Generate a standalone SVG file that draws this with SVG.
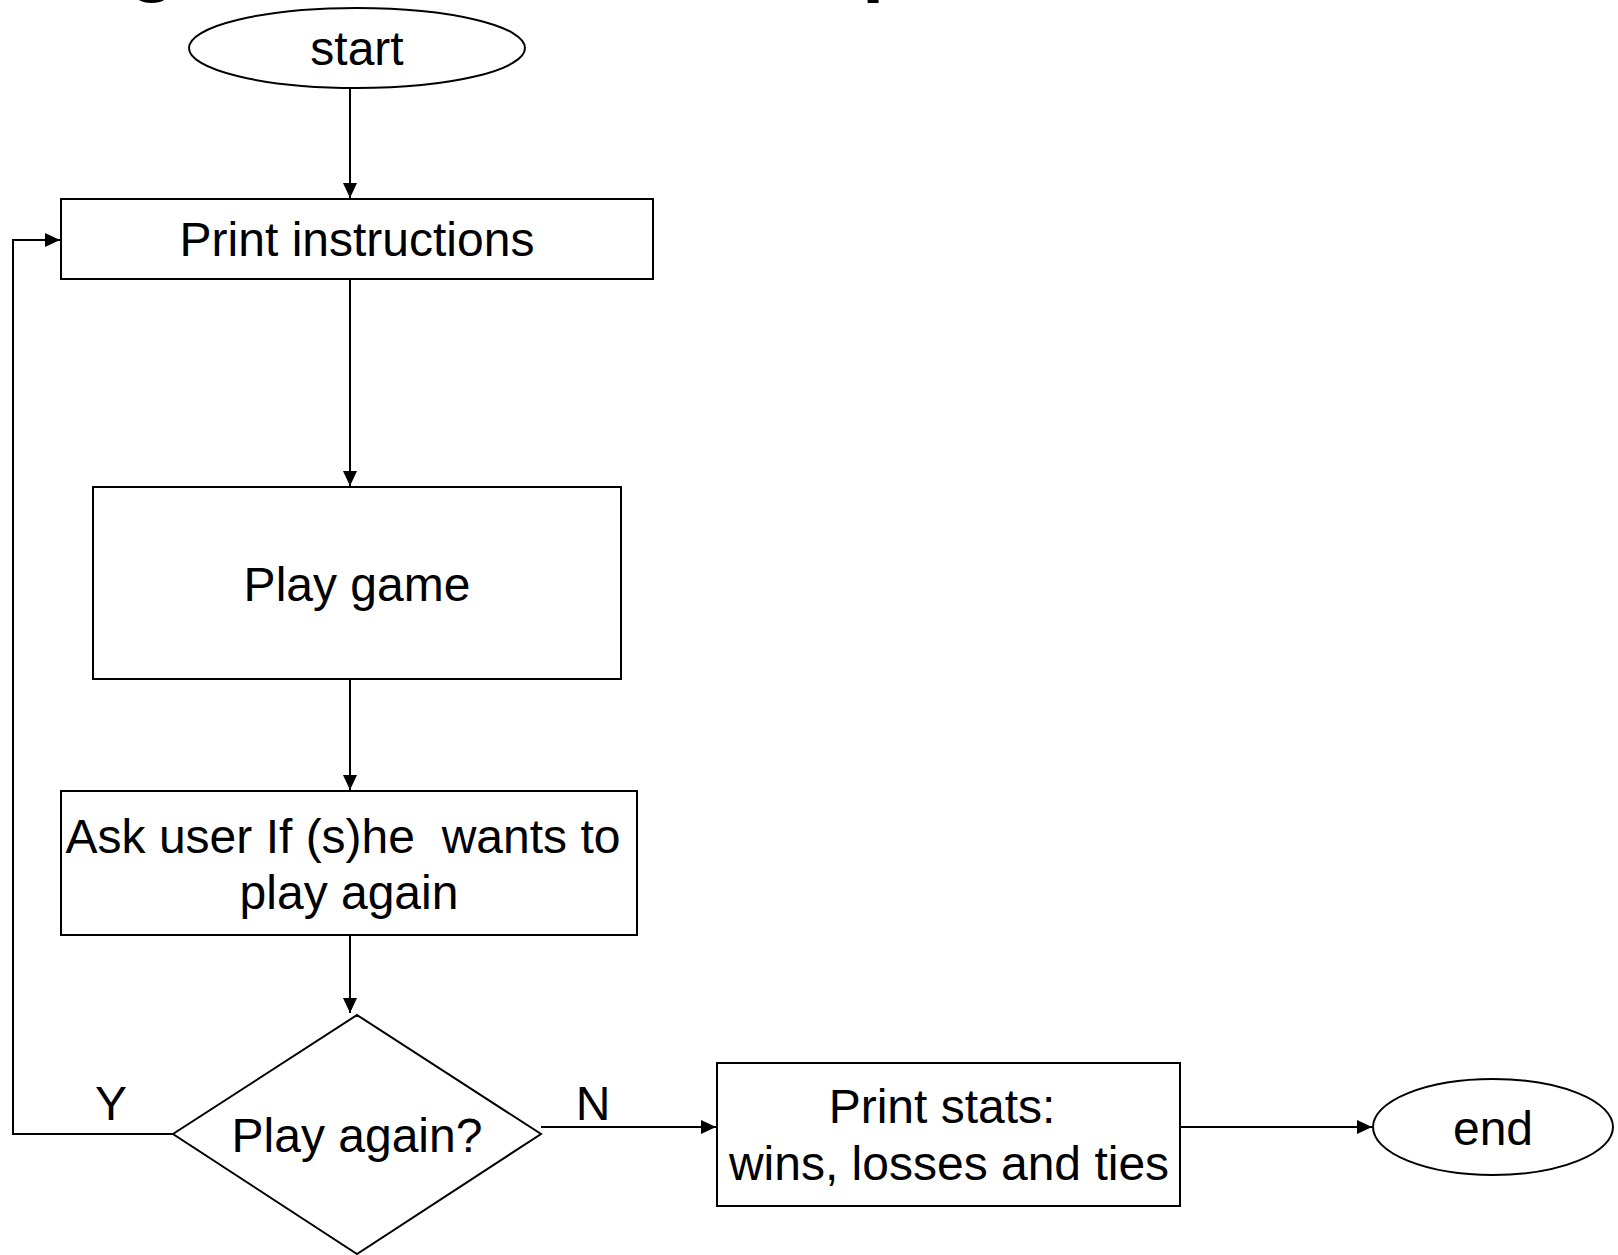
<svg xmlns="http://www.w3.org/2000/svg" width="1618" height="1255" viewBox="0 0 1618 1255">
  <style>
    .shape { fill: #ffffff; stroke: #000000; stroke-width: 2; }
    .label { font-family: "Liberation Sans", Arial, sans-serif; font-size: 48px; fill: #000000; text-anchor: middle; white-space: pre; }
    .title { font-family: "Liberation Sans", Arial, sans-serif; font-size: 80px; font-weight: bold; fill: #000000; }
    .edge { fill: none; stroke: #000000; stroke-width: 2; }
  </style>
  <defs>
    <marker id="arrow" markerUnits="userSpaceOnUse" markerWidth="16" markerHeight="16" viewBox="0 0 16 16" refX="15" refY="8" orient="auto">
      <path d="M0,1 L15,8 L0,15 Z" fill="#000000"/>
    </marker>
  </defs>
  <rect width="1618" height="1255" fill="#ffffff"/>

  <!-- heading, mostly above the top edge -->
  <g id="title">
    <text class="title" x="128" y="-14">g</text>
    <text class="title" x="862" y="-14">p</text>
  </g>

  <!-- connectors -->
  <g id="connectors">
    <path class="edge" d="M350,88 V198" marker-end="url(#arrow)"/>
    <path class="edge" d="M350,279 V486" marker-end="url(#arrow)"/>
    <path class="edge" d="M350,679 V790" marker-end="url(#arrow)"/>
    <path class="edge" d="M350,935 V1013" marker-end="url(#arrow)"/>
    <path class="edge" d="M173,1134 H13 V240 H60" marker-end="url(#arrow)"/>
    <path class="edge" d="M541,1127 H716" marker-end="url(#arrow)"/>
    <path class="edge" d="M1180,1127 H1372" marker-end="url(#arrow)"/>
    <text class="label" x="111" y="1120">Y</text>
    <text class="label" x="593" y="1120">N</text>
  </g>

  <g id="start">
    <ellipse class="shape" cx="357" cy="48" rx="168" ry="40"/>
    <text class="label" x="357" y="65">start</text>
  </g>

  <g id="print-instructions">
    <rect class="shape" x="61" y="199" width="592" height="80"/>
    <text class="label" x="357" y="256">Print instructions</text>
  </g>

  <g id="play-game">
    <rect class="shape" x="93" y="487" width="528" height="192"/>
    <text class="label" x="357" y="601">Play game</text>
  </g>

  <g id="ask-user">
    <rect class="shape" x="61" y="791" width="576" height="144"/>
    <text class="label" x="343" y="853">Ask user If (s)he  wants to</text>
    <text class="label" x="349" y="909">play again</text>
  </g>

  <g id="play-again">
    <polygon class="shape" points="357,1015 541,1134 357,1254 173,1134"/>
    <text class="label" x="357" y="1152">Play again?</text>
  </g>

  <g id="print-stats">
    <rect class="shape" x="717" y="1063" width="463" height="143"/>
    <text class="label" x="942" y="1123">Print stats:</text>
    <text class="label" x="949" y="1180">wins, losses and ties</text>
  </g>

  <g id="end">
    <ellipse class="shape" cx="1493" cy="1127" rx="120" ry="48"/>
    <text class="label" x="1493" y="1145">end</text>
  </g>
</svg>
